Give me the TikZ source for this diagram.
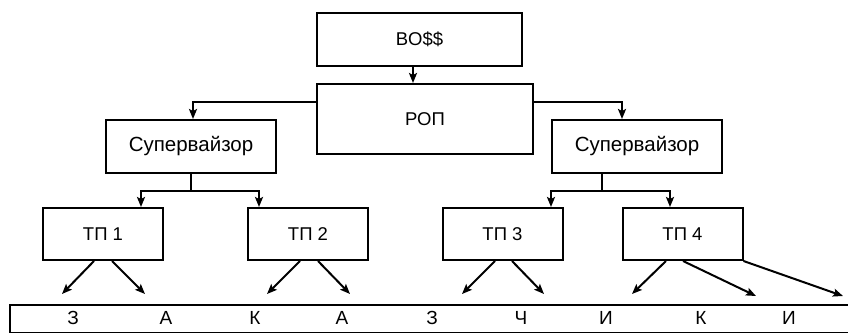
\documentclass[tikz,border=0pt]{standalone}
\usepackage{fontspec}
\setmainfont{Liberation Sans}
\usetikzlibrary{arrows.meta}

\begin{document}
\begin{tikzpicture}[x=1pt,y=-1pt,line width=2pt,
  box/.style={rectangle, draw, line width=2pt, minimum width=120pt, minimum height=52pt, inner sep=0pt, font=\fontsize{18.5}{20}\selectfont},
  sbox/.style={box, minimum width=170pt, minimum height=53pt, font=\fontsize{20.5}{22}\selectfont},
  arr/.style={-{Stealth[length=10pt,width=8pt,inset=2pt]}, line width=2pt},
  lett/.style={inner sep=0pt, font=\fontsize{19}{20}\selectfont}]
  \useasboundingbox (0,0) rectangle (848,332);

  \node[box, minimum width=205pt, minimum height=53pt] (boss) at (419.5,39.5) {BO\$\$};
  \node[box, minimum width=216pt, minimum height=70pt] (rop) at (425,119) {РОП};

  \node[sbox] (s1) at (191,146.5) {Супервайзор};
  \node[sbox] (s2) at (637,146.5) {Супервайзор};

  \node[box] (t1) at (103,234) {ТП 1};
  \node[box] (t2) at (308,234) {ТП 2};
  \node[box] (t3) at (502.5,234) {ТП 3};
  \node[box] (t4) at (682.5,234) {ТП 4};

  % the word strip, cut off on the right
  \node[draw, line width=2pt, minimum width=852pt, minimum height=28pt, inner sep=0pt, anchor=north west] (w) at (9,304) {};
  \node[lett] (l1) at (73,318) {З};
  \node[lett] (l2) at (166,318) {А};
  \node[lett] (l3) at (255,318) {К};
  \node[lett] (l4) at (342,318) {А};
  \node[lett] (l5) at (432,318) {З};
  \node[lett] (l6) at (521,318) {Ч};
  \node[lett] (l7) at (606,318) {И};
  \node[lett] (l8) at (701,318) {К};
  \node[lett] (l9) at (789,318) {И};

  \coordinate (e1) at (62,294);
  \coordinate (e2) at (145,294);
  \coordinate (e3) at (267,294);
  \coordinate (e4) at (350,294);
  \coordinate (e5) at (462,294);
  \coordinate (e6) at (544,294);
  \coordinate (e7) at (632,294);
  \coordinate (e8) at (756,296);
  \coordinate (e9) at (843,296);

  \draw[arr] ([xshift=-6.5pt]boss.south) -- ([xshift=-6.5pt]boss.south |- rop.north);
  \draw[arr] ([yshift=17pt]rop.west) -| ([xshift=2pt]s1.north);
  \draw[arr] ([yshift=17pt]rop.east) -| ([xshift=-15pt]s2.north);

  \draw[arr] (s1.south) -- ++(0,17) -| ([xshift=38pt]t1.north);
  \draw[arr] (s1.south) -- ++(0,17) -| ([xshift=-49pt]t2.north);
  \draw[arr] ([xshift=-35pt]s2.south) -- ++(0,17) -| ([xshift=48.5pt]t3.north);
  \draw[arr] ([xshift=-35pt]s2.south) -- ++(0,17) -| ([xshift=-12.5pt]t4.north);

  \draw[arr] ([xshift=-9pt]t1.south) -- (e1);
  \draw[arr] ([xshift=9pt]t1.south) -- (e2);
  \draw[arr] ([xshift=-8pt]t2.south) -- (e3);
  \draw[arr] ([xshift=10pt]t2.south) -- (e4);
  \draw[arr] ([xshift=-7.5pt]t3.south) -- (e5);
  \draw[arr] ([xshift=9.5pt]t3.south) -- (e6);
  \draw[arr] ([xshift=-16.5pt]t4.south) -- (e7);
  \draw[arr] ([xshift=0.5pt]t4.south) -- (e8);
  \draw[arr] (t4.south east) -- (e9);

\end{tikzpicture}
\end{document}
